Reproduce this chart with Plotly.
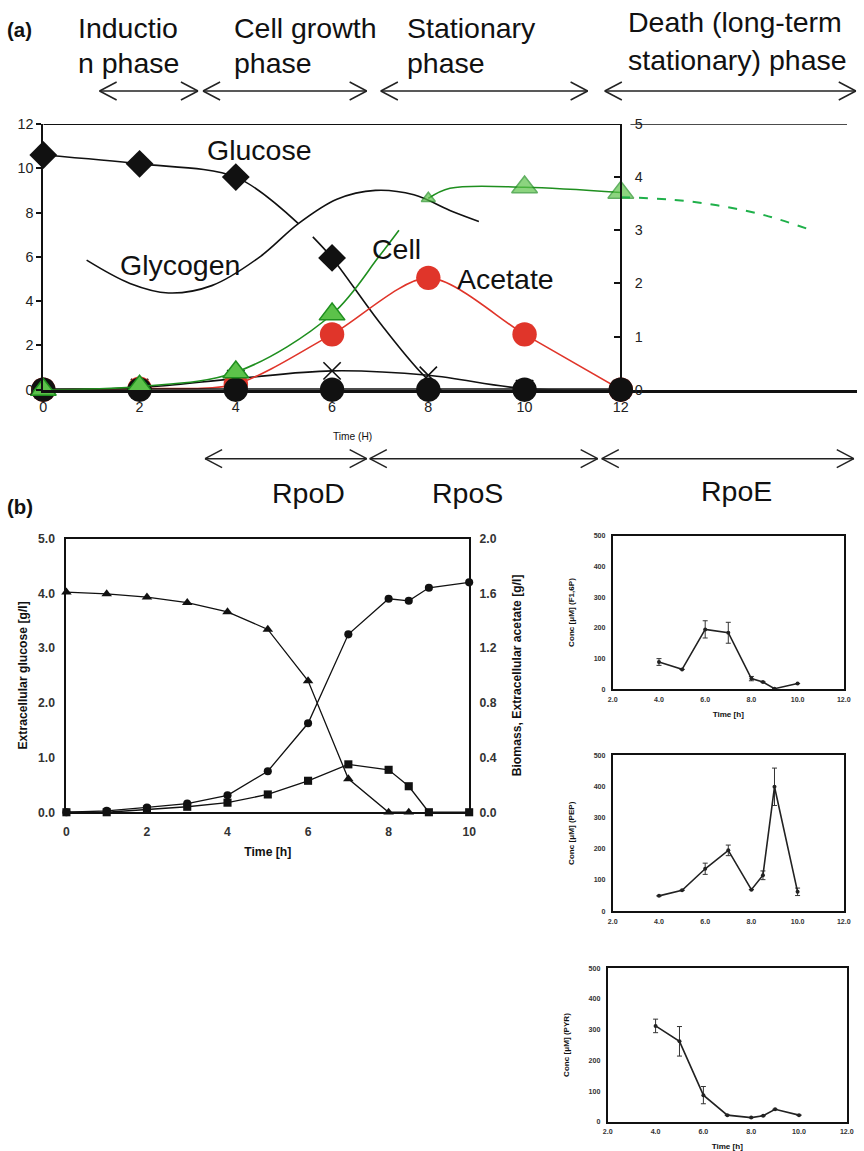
import plotly.graph_objects as go

# Picture geometry: the page body keeps an 8px margin and the captured page is
# scaled slightly; positions below are given in reference-picture pixels and mapped.
W, H = 864, 1151
OFF = 8
SX, SY = 864 / 880, 1151 / 1167
K = 1 / SX
FONT = "Liberation Sans, Arial, Helvetica, sans-serif"


def px(x):
    return min(1.0, max(0.0, (x / SX - OFF) / W))


def py(y):
    return min(1.0, max(0.0, 1 - (y / SY - OFF) / H))


def fs(n):
    return round(n * K, 1)


# ---------------- Panel (a) data ----------------
a_time = [0, 2, 4, 6, 8, 10, 12]
a_baseline = [0, 0, 0, 0, 0, 0, 0]
a_glucose_t = [0, 2, 4, 6]
a_glucose = [10.6, 10.2, 9.6, 5.95]
a_glucose_curve_t = [0, 2, 4, 5.3, None, 5.6, 6, 7, 8, 8.6, 10]
a_glucose_curve = [10.6, 10.2, 9.6, 7.5, None, 6.9, 5.95, 3.0, 0.45, -0.35, 0]
a_glycogen_t = [0.9, 1.8, 2.6, 3.5, 4.5, 5.3, 6.1, 6.9, 7.7, 8.5, 9.05]
a_glycogen = [5.85, 4.8, 4.37, 4.7, 6.0, 7.5, 8.6, 9.0, 8.8, 8.05, 7.6]
a_cell_growth_t = [0, 2, 4, 6, 6.97, 7.39]
a_cell_growth = [0.0, 0.06, 0.33, 1.42, 2.5, 3.0]
a_cell_stat_t = [8, 8.45, 10, 12]
a_cell_stat = [3.6, 3.79, 3.81, 3.71]
a_cell_death_t = [12, 13, 14, 15, 15.9]
a_cell_death = [3.62, 3.58, 3.47, 3.28, 3.02]
a_acetate = [0, 0.05, 0.25, 2.5, 5.05, 2.5, 0]
a_cross = [0, 0.1, 0.5, 0.85, 0.65, 0.05, 0]
a_xticks = [0, 2, 4, 6, 8, 10, 12]

# ---------------- Panel (b) data ----------------
b_time_glc = [0, 1, 2, 3, 4, 5, 6, 7, 8, 8.5]
b_glucose = [4.02, 3.99, 3.93, 3.83, 3.66, 3.34, 2.40, 0.61, 0, 0]
b_time = [0, 1, 2, 3, 4, 5, 6, 7, 8, 8.5, 9, 10]
b_biomass = [0.0, 0.01, 0.035, 0.063, 0.124, 0.30, 0.65, 1.30, 1.56, 1.545, 1.64, 1.68]
b_acetate = [0.0, 0.0, 0.02, 0.04, 0.07, 0.13, 0.23, 0.35, 0.31, 0.19, 0.0, 0.0]

# ---------------- Small charts data ----------------
s_time = [4, 5, 6, 7, 8, 8.5, 9, 10]
f16p = [89, 65, 195, 184, 35, 24, 2, 19]
f16p_err = [11, 0, 28, 34, 7, 0, 0, 0]
pep = [49, 67, 136, 195, 69, 115, 399, 62]
pep_err = [0, 0, 18, 17, 0, 14, 60, 12]
pyr = [312, 262, 87, 22, 14, 20, 41, 22]
pyr_err = [22, 48, 28, 0, 0, 0, 0, 0]

BLACK = "#111111"
GREEN_LINE = "#1f8f1f"
GREEN_FILL = "#5cc24a"
GREEN_DASH = "#1fb04a"
RED = "#e0352a"

fig = go.Figure()

# ---- Panel (a) traces ----
fig.add_trace(go.Scatter(x=a_glycogen_t, y=a_glycogen, mode="lines",
                         line=dict(color=BLACK, width=1.6, shape="spline", smoothing=1.0),
                         xaxis="x", yaxis="y", cliponaxis=False, showlegend=False))
fig.add_trace(go.Scatter(x=a_glucose_curve_t, y=a_glucose_curve, mode="lines",
                         line=dict(color=BLACK, width=1.6, shape="spline", smoothing=0.9),
                         connectgaps=False, xaxis="x", yaxis="y", showlegend=False))
fig.add_trace(go.Scatter(x=a_glucose_t, y=a_glucose, mode="markers",
                         marker=dict(symbol="diamond", size=fs(21), color=BLACK),
                         xaxis="x", yaxis="y", cliponaxis=False, showlegend=False))
fig.add_trace(go.Scatter(x=a_time, y=a_cross, mode="lines+markers",
                         line=dict(color=BLACK, width=1.6, shape="spline", smoothing=1.0),
                         marker=dict(symbol="x-thin", size=fs(17),
                                     line=dict(color=BLACK, width=1.6)),
                         xaxis="x", yaxis="y", cliponaxis=False, showlegend=False))
fig.add_trace(go.Scatter(x=a_time, y=a_acetate, mode="lines+markers",
                         line=dict(color=RED, width=1.6, shape="spline", smoothing=0.8),
                         marker=dict(symbol="circle", size=fs(24), color=RED),
                         xaxis="x", yaxis="y", cliponaxis=False, showlegend=False))
# Cell (right axis)
fig.add_trace(go.Scatter(x=a_cell_growth_t, y=a_cell_growth, mode="lines",
                         line=dict(color=GREEN_LINE, width=1.6, shape="spline", smoothing=1.0),
                         xaxis="x", yaxis="y2", showlegend=False))
fig.add_trace(go.Scatter(x=a_cell_growth_t[:4], y=a_cell_growth[:4], mode="markers",
                         marker=dict(symbol="triangle-up", size=fs(22), color=GREEN_FILL,
                                     line=dict(color=GREEN_LINE, width=1.5)),
                         xaxis="x", yaxis="y2", cliponaxis=False, showlegend=False))
fig.add_trace(go.Scatter(x=a_cell_stat_t, y=a_cell_stat, mode="lines",
                         line=dict(color=GREEN_LINE, width=1.6, shape="spline", smoothing=1.0),
                         xaxis="x", yaxis="y2", showlegend=False))
fig.add_trace(go.Scatter(x=[a_cell_stat_t[0], a_cell_stat_t[2], a_cell_stat_t[3]],
                         y=[a_cell_stat[0], a_cell_stat[2], a_cell_stat[3]], mode="markers",
                         marker=dict(symbol="triangle-up", size=[fs(12), fs(22), fs(22)],
                                     color=GREEN_FILL, line=dict(color=GREEN_LINE, width=1.5)),
                         xaxis="x", yaxis="y2", cliponaxis=False, showlegend=False))
fig.add_trace(go.Scatter(x=a_cell_death_t, y=a_cell_death, mode="lines",
                         line=dict(color=GREEN_DASH, width=2, dash="dash", shape="spline"),
                         xaxis="x", yaxis="y2", showlegend=False))
# baseline black circles
fig.add_trace(go.Scatter(x=a_time, y=a_baseline, mode="lines+markers",
                         line=dict(color=BLACK, width=3),
                         marker=dict(symbol="circle", size=fs(24), color=BLACK),
                         xaxis="x", yaxis="y", cliponaxis=False, showlegend=False))

# ---- Panel (b) traces ----
fig.add_trace(go.Scatter(x=b_time_glc, y=b_glucose, mode="lines+markers",
                         line=dict(color=BLACK, width=1.3),
                         marker=dict(symbol="triangle-up", size=fs(9), color=BLACK),
                         xaxis="x3", yaxis="y3", cliponaxis=False, showlegend=False))
fig.add_trace(go.Scatter(x=b_time, y=b_biomass, mode="lines+markers",
                         line=dict(color=BLACK, width=1.3),
                         marker=dict(symbol="circle", size=fs(8), color=BLACK),
                         xaxis="x3", yaxis="y4", cliponaxis=False, showlegend=False))
fig.add_trace(go.Scatter(x=b_time, y=b_acetate, mode="lines+markers",
                         line=dict(color=BLACK, width=1.3),
                         marker=dict(symbol="square", size=fs(8), color=BLACK),
                         xaxis="x3", yaxis="y4", cliponaxis=False, showlegend=False))

# ---- Small charts ----
for vals, errs, xa, ya in [(f16p, f16p_err, "x5", "y5"),
                           (pep, pep_err, "x6", "y6"),
                           (pyr, pyr_err, "x7", "y7")]:
    fig.add_trace(go.Scatter(x=s_time, y=vals, mode="lines+markers",
                             line=dict(color="#222222", width=1.6),
                             marker=dict(symbol="circle", size=4, color="#222222"),
                             error_y=dict(type="data", array=errs, visible=True,
                                          color="#333333", thickness=1, width=2.5),
                             xaxis=xa, yaxis=ya, cliponaxis=False, showlegend=False))

# ---------------- Layout ----------------
A_X0, A_X12 = 46, 621
A_RIGHT = SX * (W + OFF)
a_xmax = (A_RIGHT - A_X0) / ((A_X12 - A_X0) / 12)
tickfont_a = dict(family=FONT, size=fs(14), color="#222222")
tickfont_b = dict(family=FONT, size=fs(12), color="#333333", weight="bold")
tickfont_s = dict(family=FONT, size=fs(7), color="#333333", weight="bold")
CLEAR = "rgba(0,0,0,0)"

layout = dict(
    width=W, height=H, margin=dict(l=0, r=0, t=0, b=0),
    paper_bgcolor="white", plot_bgcolor="rgba(0,0,0,0)",
    font=dict(family=FONT, color="#111111"),
    showlegend=False,
    # panel (a)
    xaxis=dict(domain=[px(A_X0), 1.0], range=[0, a_xmax], anchor="y",
               tickvals=a_xticks, ticks="outside", ticklen=2, tickcolor=CLEAR,
               showline=True, linecolor=BLACK, linewidth=2.5, showgrid=False, zeroline=False,
               tickfont=tickfont_a),
    yaxis=dict(domain=[py(390), py(124)], range=[0, 12], anchor="x", dtick=2,
               ticks="outside", ticklen=5, tickcolor=BLACK, tickwidth=1.5,
               showline=True, linecolor=BLACK, linewidth=2, showgrid=False, zeroline=False,
               tickfont=tickfont_a),
    yaxis2=dict(overlaying="y", anchor="free", position=px(A_X12), side="right",
                range=[0, 5], dtick=1, ticks="inside", ticklen=6, tickwidth=1.5,
                tickcolor=BLACK, showline=True, linecolor=BLACK, linewidth=2,
                ticklabelstandoff=10,
                showgrid=False, zeroline=False, tickfont=tickfont_a),
    # panel (b)
    xaxis3=dict(domain=[px(69), px(470)], range=[0, 10], anchor="y3", dtick=2,
                showline=True, mirror=True, linecolor=BLACK, linewidth=2,
                ticks="outside", ticklen=7, tickcolor=CLEAR,
                showgrid=False, zeroline=False, tickfont=tickfont_b,
                title=dict(text="Time [h]", font=dict(family=FONT, size=fs(12), weight="bold"),
                           standoff=10)),
    yaxis3=dict(domain=[py(813), py(539)], range=[0, 5], anchor="x3", dtick=1,
                tickformat=".1f", showline=True, mirror=True, linecolor=BLACK, linewidth=2,
                ticks="outside", ticklen=7, tickcolor=CLEAR,
                showgrid=False, zeroline=False, tickfont=tickfont_b,
                title=dict(text="Extracellular glucose [g/l]",
                           font=dict(family=FONT, size=fs(12), weight="bold"), standoff=8)),
    yaxis4=dict(overlaying="y3", anchor="x3", side="right", range=[0, 2], dtick=0.4,
                tickformat=".1f", showline=False, ticks="outside", ticklen=7, tickcolor=CLEAR,
                showgrid=False, zeroline=False, tickfont=tickfont_b,
                title=dict(text="Biomass, Extracellular acetate [g/l]",
                           font=dict(family=FONT, size=fs(12), weight="bold"), standoff=16)),
)

small = [("x5", "y5", [613, 843], [690, 536], "Conc [μM] (F1,6P)", "Time [h]"),
         ("x6", "y6", [613, 843], [912, 756], "Conc [μM] (PEP)", ""),
         ("x7", "y7", [608, 846], [1123, 969], "Conc [μM] (PYR)", "Time [h]")]
for xa, ya, xd, yd, ytitle, xtitle in small:
    xk = "xaxis" + xa[1:]
    yk = "yaxis" + ya[1:]
    layout[xk] = dict(domain=[px(xd[0]), px(xd[1])], range=[2, 12], anchor=ya, dtick=2,
                      tick0=2, tickformat=".1f", showline=True, mirror=True,
                      linecolor=BLACK, linewidth=1.8, ticks="outside", ticklen=2,
                      tickcolor=CLEAR, showgrid=False, zeroline=False, tickfont=tickfont_s,
                      title=dict(text=xtitle, font=dict(family=FONT, size=fs(8), weight="bold"),
                                 standoff=9))
    layout[yk] = dict(domain=[py(yd[0]), py(yd[1])], range=[0, 500], anchor=xa, dtick=100,
                      showline=True, mirror=True, linecolor=BLACK, linewidth=1.8,
                      ticks="outside", ticklen=4, tickcolor=CLEAR,
                      showgrid=False, zeroline=False, tickfont=tickfont_s,
                      title=dict(text=ytitle, font=dict(family=FONT, size=fs(8), weight="bold"),
                                 standoff=18))

fig.update_layout(**layout)

# ---------------- Shapes ----------------
shapes = []
shapes.append(dict(type="line", xref="x", yref="y", x0=0, x1=12, y0=12, y1=12,
                   line=dict(color=BLACK, width=2)))
shapes.append(dict(type="line", xref="x", yref="y2", x0=12.2, x1=16.7, y0=5, y1=5,
                   line=dict(color=BLACK, width=1.6)))


def double_arrow(x0, x1, y, arm=17, h=9):
    c = dict(color="#222222", width=1.5)
    out = [dict(type="line", xref="paper", yref="paper", x0=px(x0), x1=px(x1),
                y0=py(y), y1=py(y), line=c)]
    for xe, d in [(x0, 1), (x1, -1)]:
        for s in (-1, 1):
            out.append(dict(type="line", xref="paper", yref="paper", x0=px(xe),
                            x1=px(xe + d * arm), y0=py(y), y1=py(y + s * h), line=c))
    return out


for a, b in [(102, 200), (205, 368), (382, 588), (605, 855)]:
    shapes += double_arrow(a, b, 91)
for a, b in [(207, 368), (371, 598), (602, 853)]:
    shapes += double_arrow(a, b, 459)
fig.update_layout(shapes=shapes)

# ---------------- Annotations ----------------
ann = []


def text(t, x, y, size=28, xanchor="left", bold=False, color="#111111"):
    ann.append(dict(text=t, x=px(x), y=py(y), xref="paper", yref="paper",
                    xanchor=xanchor, yanchor="middle", showarrow=False,
                    font=dict(family=FONT, size=fs(size), color=color,
                              weight="bold" if bold else "normal")))


text("(a)", 8, 30, size=20, bold=True)
text("Inductio", 79, 28)
text("n phase", 79, 63)
text("Cell growth", 234, 28)
text("phase", 234, 63)
text("Stationary", 406, 28)
text("phase", 406, 63)
text("Death (long-term", 626, 22)
text("stationary) phase", 626, 60)
text("Glucose", 261, 150, xanchor="center")
text("Glycogen", 182, 265, xanchor="center")
text("Cell", 398, 249, xanchor="center")
text("Acetate", 506, 279, xanchor="center")
text("Time (H)", 354, 437, size=10, xanchor="center")
text("RpoD", 310, 493, xanchor="center")
text("RpoS", 468, 493, xanchor="center")
text("RpoE", 736, 491, xanchor="center")
text("(b)", 8, 507, size=20, bold=True)
fig.update_layout(annotations=ann)

fig.write_html("out.html")
